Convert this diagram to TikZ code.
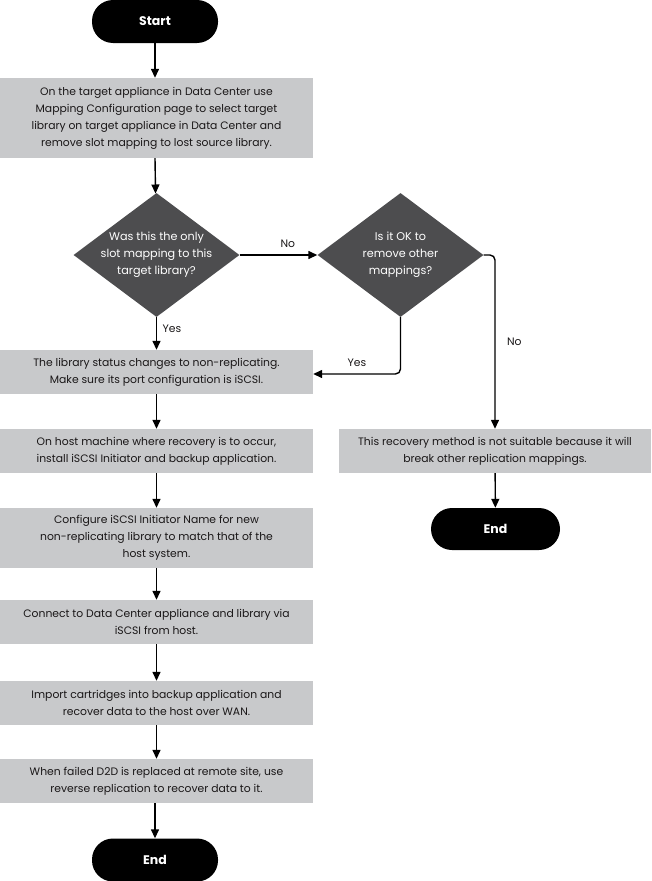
\documentclass[tikz,border=0pt]{standalone}
\usepackage{fontspec}
\setmainfont{Poppins}
\usetikzlibrary{shapes.geometric,arrows.meta}

\definecolor{Step}{HTML}{C8C9CB}
\definecolor{Ask}{HTML}{4D4D4F}
\definecolor{Ink}{HTML}{1A1718}

\tikzset{
  pill/.style={rectangle, rounded corners=21pt, fill=black, text=white,
    minimum height=43pt, font=\fontsize{12.5}{17}\selectfont\bfseries},
  stepbox/.style={rectangle, fill=Step, text=Ink, minimum width=313pt,
    minimum height=44pt, align=center, inner sep=0pt,
    font=\fontsize{10.8}{17}\selectfont},
  ask/.style={diamond, fill=Ask, text=white, minimum width=166pt,
    minimum height=124pt, inner sep=-24pt, align=center,
    font=\fontsize{11.2}{17}\selectfont},
  flow/.style={line width=1.4pt, -{Triangle[width=8pt,length=9pt]}},
  tag/.style={text=Ink, font=\fontsize{10.8}{17}\selectfont}
}

\begin{document}
\begin{tikzpicture}[x=1pt, y=-1pt]

  \useasboundingbox (0,0) rectangle (651,881);

  %%%%%%%%%% Main column %%%%%%%%%%
  \node[pill, minimum width=126pt] (start) at (155,21.5) {Start};
  \node[stepbox, minimum height=80pt] (lost) at (156.5,118) {On the target appliance in Data Center use\\
    Mapping Configuration page to select target\\
    library on target appliance in Data Center and\\
    remove slot mapping to lost source library.};
  \node[ask] (only) at (156.5,255) {Was this the only\\slot mapping to this\\target library?};
  \node[stepbox] (status) at (156.5,372) {The library status changes to non-replicating.\\
    Make sure its port configuration is iSCSI.};
  \node[stepbox] (host) at (156.5,451) {On host machine where recovery is to occur,\\
    install iSCSI Initiator and backup application.};
  \node[stepbox, minimum height=60pt] (name) at (156.5,538) {Configure iSCSI Initiator Name for new\\
    non-replicating library to match that of the\\
    host system.};
  \node[stepbox] (connect) at (156.5,622) {Connect to Data Center appliance and library via\\
    iSCSI from host.};
  \node[stepbox] (import) at (156.5,703) {Import cartridges into backup application and\\
    recover data to the host over WAN.};
  \node[stepbox] (reverse) at (156.5,781) {When failed D2D is replaced at remote site, use\\
    reverse replication to recover data to it.};
  \node[pill, minimum width=126pt] (endB) at (155,860) {End};

  %%%%%%%%%% Side column %%%%%%%%%%
  \node[ask] (other) at (400.5,255) {Is it OK to\\remove other\\mappings?};
  \node[stepbox, minimum width=312pt] (unfit) at (495,451) {This recovery method is not suitable because it will\\
    break other replication mappings.};
  \node[pill, minimum width=129pt, minimum height=42pt] (endR) at (495.5,529) {End};

  %%%%%%%%%% Connectors %%%%%%%%%%
  \draw[flow] (start) -- (start |- lost.north);
  \draw[flow] (lost.south -| start) -- (only);
  \draw[flow] (only) -- (status) node[tag, pos=0.35, right=2pt] (yesA) {Yes};
  \draw[flow] (status) -- (host);
  \draw[flow] (host) -- (name);
  \draw[flow] (name) -- (connect);
  \draw[flow] (connect) -- (import);
  \draw[flow] (import) -- (reverse);
  \draw[flow] (reverse.south -| endB) -- (endB);

  \draw[flow] (only.east) -- (other.west) node[tag, pos=0.62, above=3pt] (noA) {No};
  \draw[flow, rounded corners=5pt] (other.south) |- ([yshift=-2pt]status.east)
    node[tag, pos=0.75, above=3pt] (yesB) {Yes};
  \draw[flow, rounded corners=5pt] (other.east) -| (unfit.north)
    node[tag, pos=0.75, right=8pt] (noB) {No};
  \draw[flow] (unfit) -- (endR);

\end{tikzpicture}
\end{document}
